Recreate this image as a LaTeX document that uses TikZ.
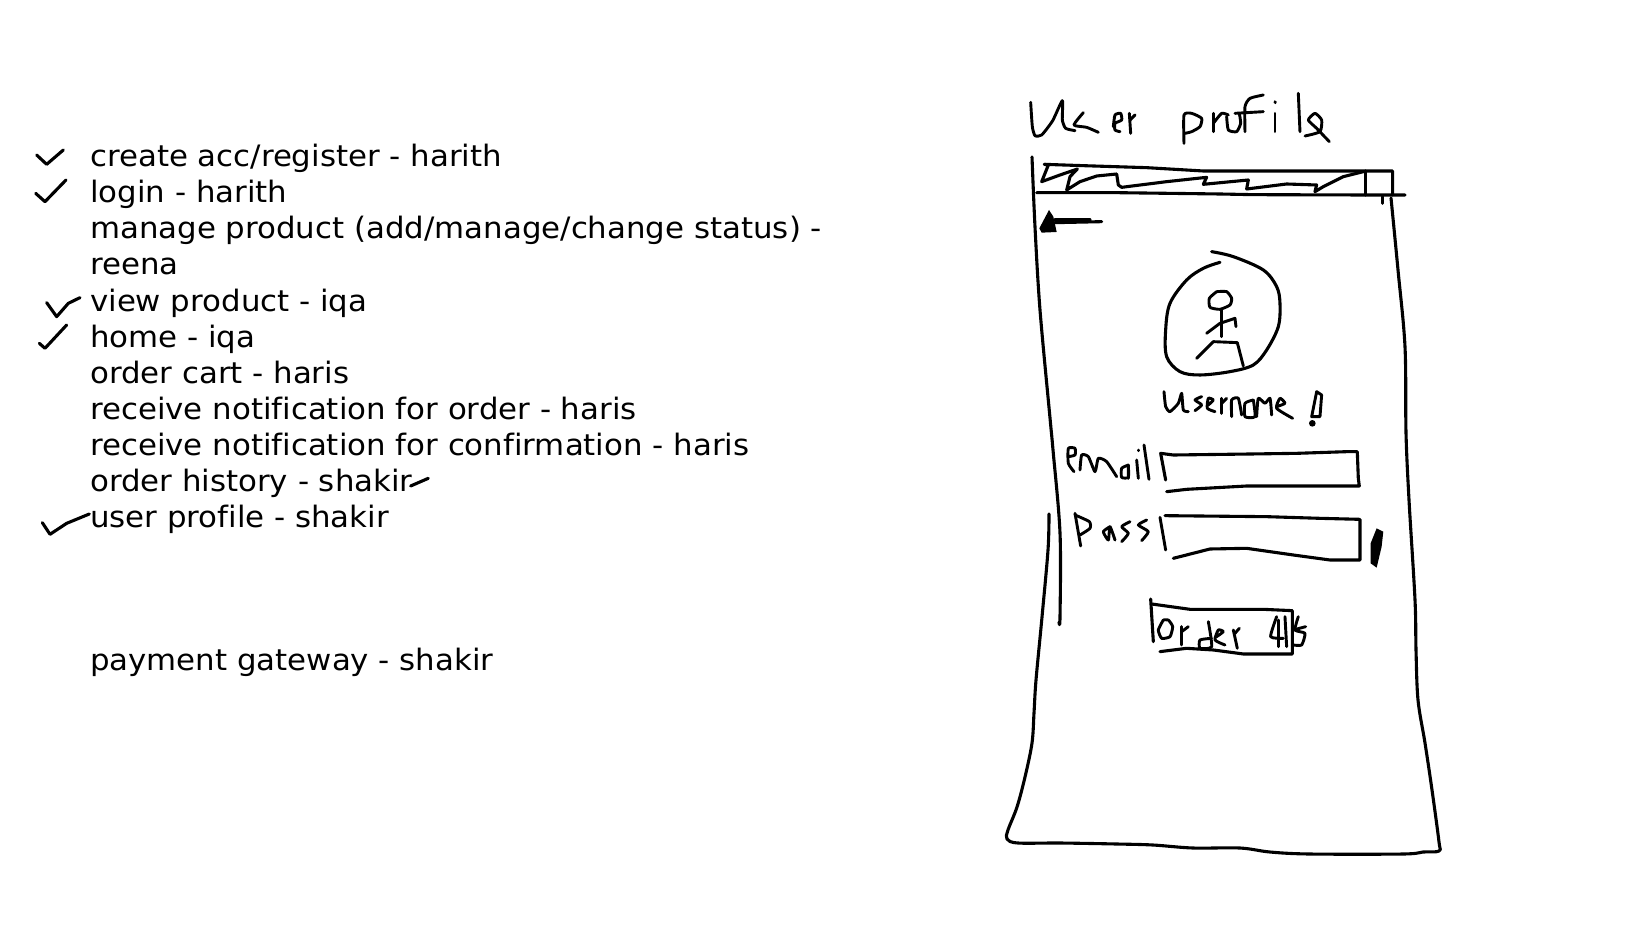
\documentclass[tikz,border=0pt]{standalone}
\usepackage{fontspec}
\setmainfont[FakeStretch=1.045,Ligatures=NoCommon]{DejaVu Sans}
\tikzset{
 ink/.style={draw=black,line width=3.1pt,line cap=round,line join=round},
 fine/.style={draw=black,line width=2.9pt,line cap=round,line join=round},
 todo/.style={anchor=base west,inner sep=0pt,font=\fontsize{29.5}{36}\selectfont,text=black},
 zA/.style={shift={(1000,70)},x=0.3333pt,y=-0.3333pt},
 zB/.style={shift={(1000,400)},x=0.3333pt,y=-0.3333pt},
 zC/.style={shift={(0,120)},x=0.3333pt,y=-0.3333pt},
 zD/.style={shift={(0,400)},x=0.3333pt,y=-0.3333pt}
}
\newcommand{\stroke}[1]{\draw[ink] plot[smooth,tension=.55] coordinates {#1};}
\newcommand{\letter}[1]{\draw[fine] plot[smooth,tension=.35] coordinates {#1};}
\begin{document}
\begin{tikzpicture}[x=1pt,y=-1pt]
\useasboundingbox (0,0) rectangle (1648,927);
\fill[white] (0,0) rectangle (1648,927);
\node[todo] (t1) at (90,166.5) {create acc/register - harith};
\node[todo] (t2) at (90,202.5) {login - harith};
\node[todo] (t3) at (90,238.5) {manage product (add/manage/change status) -};
\node[todo] (t4) at (90,274.5) {reena};
\node[todo] (t5) at (90,311) {view product - iqa};
\node[todo] (t6) at (90,347) {home - iqa};
\node[todo] (t7) at (90,383) {order cart - haris};
\node[todo] (t8) at (90,419) {receive notification for order - haris};
\node[todo] (t9) at (90,455) {receive notification for confirmation - haris};
\node[todo] (t10) at (90,491) {order history - shakir};
\node[todo] (t11) at (90,527) {user profile - shakir};
\node[todo] (t12) at (90,670.5) {payment gateway - shakir};
% check marks
\begin{scope}[zC]
\draw[ink] (110,105) -- (140,133) -- (190,90);
\draw[ink] (107,220) -- (135,245) -- (198,180);
\draw[ink] (140,548) -- (170,590) -- (205,550) -- (240,533);
\draw[ink] (118,670) -- (135,685) -- (200,615);
\end{scope}
\begin{scope}[zD]
\draw[ink] (127,368) -- (150,403) -- (200,370) -- (268,342);
\draw[ink] (1232,258) -- (1285,235);
\end{scope}
% page outline
\stroke{(1032,157)(1035,227)(1040,310)(1050,418)(1053,450)(1060,533)(1060,617)(1059,622)}
\stroke{(1049,514)(1048,550)(1042,617)(1036,680)(1034,713)(1032,743)(1025,777)(1017,807)(1008,830)(1007,839)(1018,843)(1060,843)(1117,844)(1153,845)(1193,848)(1240,848)(1270,852)(1310,854)(1403,854)(1423,852)(1439,851)(1439,842)(1432,790)(1425,743)(1418,700)(1416,650)(1415,600)(1409,500)(1406,433)(1405,347)(1398,270)(1391,198)}
\begin{scope}[zA]
% title
\letter{(92,97)(97,170)(105,197)(125,195)(158,152)(187,92)(187,150)(197,175)(225,182)}
\letter{(250,128)(222,165)(260,172)(295,187)}
\letter{(340,170)(345,135)(362,130)(365,150)(345,160)(345,180)(360,185)}
\letter{(388,130)(392,190)}
\letter{(390,150)(405,135)}
\letter{(552,220)(552,135)(575,130)(605,145)(600,170)(575,185)(555,190)}
\letter{(640,130)(640,185)}
\letter{(640,160)(665,130)(685,135)}
\letter{(680,140)(685,180)(710,185)(722,160)(718,130)}
\letter{(735,185)(735,110)(750,85)(790,75)}
\letter{(705,130)(790,125)}
\letter{(825,130)(825,185)}
\letter{(825,95)(826,98)}
\letter{(895,70)(900,185)}
\letter{(915,198)(960,185)(965,150)(945,130)(925,150)(950,175)(988,215)}
% title bar
\draw[ink] (110,368) -- (350,368) -- (660,372) -- (760,374) -- (1095,375) -- (1215,375);
\draw[ink] (133,283) -- (250,287) -- (440,293) -- (610,303) -- (1178,303) -- (1178,375);
\draw[ink] (1097,303) -- (1097,375);
\draw[fine] (1148,380) -- (1148,400);
\draw[ink] (1090,305) -- (1030,320) -- (970,350) -- (945,365) -- (950,345) -- (860,342) -- (740,357) -- (745,330) -- (610,343) -- (620,322) -- (500,335) -- (365,352) -- (355,345) -- (350,312) -- (290,318) -- (240,335) -- (200,360) -- (210,320) -- (232,297) -- (180,315) -- (125,335) -- (145,285) -- (133,283);
% bell
\fill[black] (147,420) -- (118,475) -- (125,488) -- (170,486) -- (160,440) -- cycle;
\draw[ink] (165,458) -- (305,455);
\draw[ink] (165,450) -- (270,450);
% avatar
\stroke{(635,545)(700,560)(790,600)(830,650)(840,700)(835,770)(800,840)(760,885)(690,905)(600,915)(540,905)(500,860)(497,780)(510,700)(560,630)(610,595)(660,577)}
\letter{(650,665)(680,665)(695,685)(690,705)(660,718)(630,712)(628,685)(650,665)}
\draw[fine] (665,718) -- (665,800);
\draw[fine] (620,790) -- (660,760) -- (705,745) -- (708,770);
\draw[fine] (590,865) -- (640,815) -- (712,818) -- (730,888);
% username
\letter{(492,965)(497,1010)(510,1025)(535,1000)(545,970)(550,1020)(565,1025)}
\letter{(605,980)(585,990)(605,1005)(585,1022)}
\letter{(625,1005)(640,990)(625,985)(622,1015)(645,1025)}
\letter{(665,985)(665,1030)}
\letter{(665,1000)(680,985)}
\letter{(695,1040)(695,990)(715,985)(725,1035)}
\letter{(760,990)(735,1000)(735,1040)(765,1040)(760,990)}
\letter{(770,1040)(775,985)(795,1000)(810,985)(815,1035)}
\letter{(830,1010)(855,1000)(840,985)(830,1015)(878,1045)}
\draw[fine] (950,965) -- (935,1040) -- (960,1040) -- (965,975) -- cycle;
\end{scope}
\begin{scope}[zB]
\fill[black] (937,70) circle (10);
% email
\letter{(205,170)(225,165)(225,145)(205,145)(205,190)(222,215)}
\letter{(240,210)(245,165)(265,170)(285,215)(295,175)(320,185)(350,230)}
\letter{(385,195)(365,205)(365,232)(385,232)(385,195)(385,235)}
\letter{(410,180)(415,235)}
\letter{(415,150)(415,152)}
\letter{(432,135)(447,238)}
\draw[ink] (497,240) -- (482,160) -- (520,165) -- (750,162) -- (890,160) -- (1040,155) -- (1072,155) -- (1075,235) -- (1078,258) -- (900,258) -- (740,258) -- (560,268) -- (500,275);
% pass
\letter{(225,340)(242,438)}
\letter{(225,345)(268,365)(270,385)(240,405)}
\letter{(330,380)(310,395)(325,420)(330,380)(345,420)}
\letter{(390,365)(365,380)(385,400)(365,425)}
\letter{(440,360)(415,375)(445,395)(425,422)}
\letter{(480,352)(497,450)}
\draw[ink] (495,347) -- (800,350) -- (960,355) -- (1080,358) -- (1080,480) -- (990,480) -- (880,465) -- (740,445) -- (630,447) -- (520,475);
\fill[black] (1130,385) -- (1112,430) -- (1112,490) -- (1130,503) -- (1145,440) -- (1150,395) -- cycle;
% button
\draw[ink] (452,597) -- (460,725);
\draw[ink] (455,612) -- (570,628) -- (790,628) -- (877,632) -- (877,762) -- (730,762) -- (640,750) -- (560,745) -- (480,755);
\letter{(490,660)(475,690)(485,715)(510,710)(518,680)(505,660)(490,660)}
\letter{(545,680)(545,735)}
\letter{(545,695)(565,680)}
\letter{(635,715)(600,720)(600,745)(635,740)(625,665)}
\letter{(650,710)(670,695)(655,690)(645,720)(675,735)}
\letter{(700,690)(712,745)}
\letter{(705,700)(718,685)}
\letter{(830,650)(812,710)(850,715)}
\letter{(835,660)(835,740)}
\letter{(855,650)(860,740)}
\letter{(895,650)(885,690)(915,700)(905,735)(880,735)}
\letter{(880,690)(917,680)}
\end{scope}
\end{tikzpicture}
\end{document}
